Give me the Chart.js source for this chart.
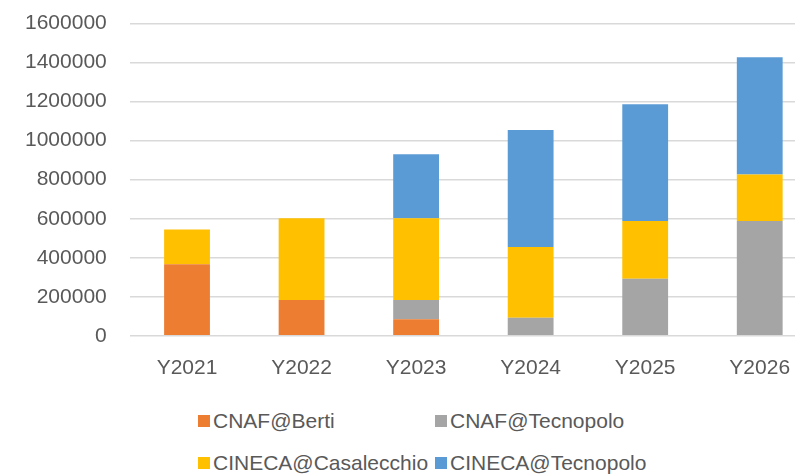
<!DOCTYPE html>
<html>
<head>
<meta charset="utf-8">
<script src="https://cdn.jsdelivr.net/npm/chart.js@4"></script>
<style>
  html, body { margin: 0; padding: 0; background: #fff; overflow: hidden; }
  #wrap { position: relative; width: 795px; height: 475px; overflow: hidden; }
  #storageChart { position: absolute; left: 0; top: -12px; }
  #legend {
    position: absolute; left: 198px; top: 406px;
    display: grid; grid-template-columns: 237px 240px; row-gap: 12px;
    font-family: "Liberation Sans", sans-serif; font-size: 21px; color: #595959;
  }
  #legend div { display: flex; align-items: center; height: 30px; white-space: nowrap; }
  #legend span.box { width: 12px; height: 12px; margin-right: 3px; display: inline-block; }
</style>
</head>
<body>
<div id="wrap">
  <canvas id="storageChart" width="830" height="405"></canvas>
  <div id="legend"></div>
</div>
<script>
var years = ["Y2021", "Y2022", "Y2023", "Y2024", "Y2025", "Y2026"];
var cnafBerti = [367000, 183000, 85000, 0, 0, 0];
var cnafTecnopolo = [0, 0, 98000, 93000, 292000, 588000];
var cinecaCasalecchio = [178000, 420000, 420000, 362000, 296000, 239000];
var cinecaTecnopolo = [0, 0, 328000, 600000, 599000, 600000];
var yTicks = [0, 200000, 400000, 600000, 800000, 1000000, 1200000, 1400000, 1600000];

document.addEventListener("DOMContentLoaded", function () {
    var ctx = document.getElementById("storageChart").getContext("2d");
    var chart = new Chart(ctx, {
        type: "bar",
        data: {
            labels: years,
            datasets: [
                { label: "CNAF@Berti", data: cnafBerti, backgroundColor: "#ED7D31" },
                { label: "CNAF@Tecnopolo", data: cnafTecnopolo, backgroundColor: "#A5A5A5" },
                { label: "CINECA@Casalecchio", data: cinecaCasalecchio, backgroundColor: "#FFC000" },
                { label: "CINECA@Tecnopolo", data: cinecaTecnopolo, backgroundColor: "#5B9BD5" }
            ]
        },
        options: {
            responsive: false,
            animation: false,
            layout: { padding: { top: 0, left: 2, right: 13, bottom: 0 } },
            datasets: { bar: { categoryPercentage: 1, barPercentage: 0.4, borderWidth: 0 } },
            plugins: { legend: { display: false }, tooltip: { enabled: false } },
            scales: {
                x: {
                    stacked: true,
                    grid: { display: false },
                    border: { display: false },
                    ticks: { color: "#595959", padding: 12, font: { family: "Liberation Sans", size: 21 } }
                },
                y: {
                    stacked: true,
                    min: yTicks[0],
                    max: yTicks[yTicks.length - 1],
                    afterBuildTicks: function (axis) {
                        axis.ticks = yTicks.map(function (v) { return { value: v }; });
                    },
                    grid: { color: "#D9D9D9", lineWidth: 1.5, drawTicks: false },
                    border: { display: false },
                    ticks: {
                        color: "#595959", padding: 23,
                        font: { family: "Liberation Sans", size: 21 },
                        callback: function (v) { return String(v); }
                    }
                }
            }
        }
    });

    var legend = document.getElementById("legend");
    chart.data.datasets.forEach(function (ds) {
        var item = document.createElement("div");
        var box = document.createElement("span");
        box.className = "box";
        box.style.background = ds.backgroundColor;
        item.appendChild(box);
        item.appendChild(document.createTextNode(ds.label));
        legend.appendChild(item);
    });
});
</script>
</body>
</html>
